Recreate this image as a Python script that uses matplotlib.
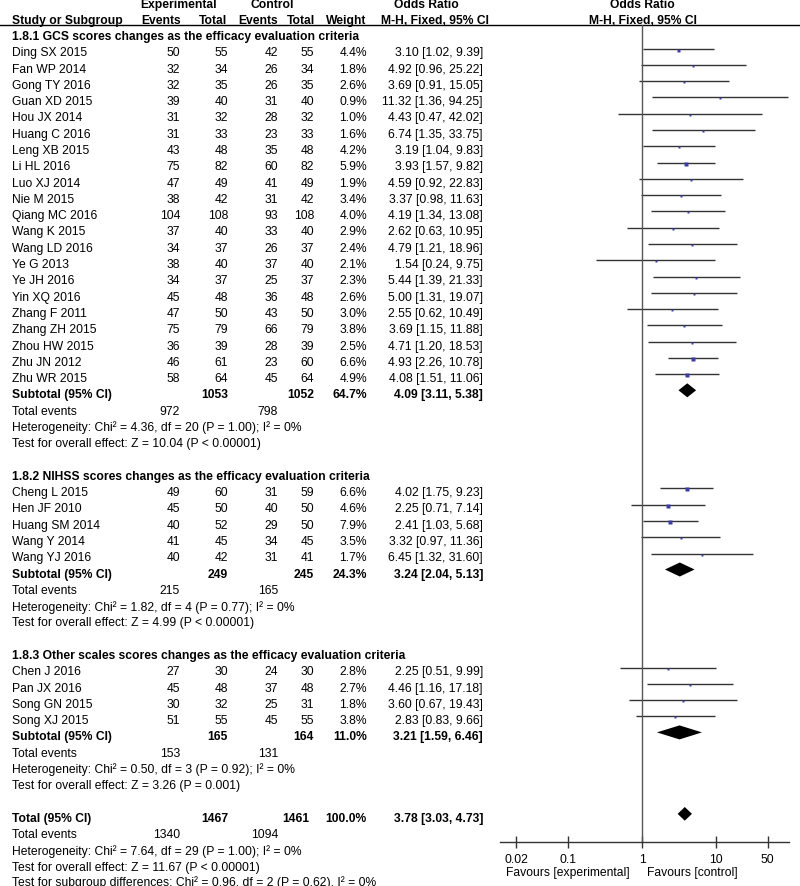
import matplotlib
matplotlib.use("Agg")
import matplotlib.pyplot as plt
from matplotlib.ticker import NullLocator

plt.rcParams['font.family'] = ['Liberation Sans', 'DejaVu Sans']
FS = 8.7

# ---- data ----
g1_title = "1.8.1 GCS scores changes as the efficacy evaluation criteria"
g1_names = ["Ding SX 2015", "Fan WP 2014", "Gong TY 2016", "Guan XD 2015", "Hou JX 2014",
            "Huang C 2016", "Leng XB 2015", "Li HL 2016", "Luo XJ 2014", "Nie M 2015",
            "Qiang MC 2016", "Wang K 2015", "Wang LD 2016", "Ye G 2013", "Ye JH 2016",
            "Yin XQ 2016", "Zhang F 2011", "Zhang ZH 2015", "Zhou HW 2015", "Zhu JN 2012",
            "Zhu WR 2015"]
g1_exp_ev = [50, 32, 32, 39, 31, 31, 43, 75, 47, 38, 104, 37, 34, 38, 34, 45, 47, 75, 36, 46, 58]
g1_exp_n = [55, 34, 35, 40, 32, 33, 48, 82, 49, 42, 108, 40, 37, 40, 37, 48, 50, 79, 39, 61, 64]
g1_ctl_ev = [42, 26, 26, 31, 28, 23, 35, 60, 41, 31, 93, 33, 26, 37, 25, 36, 43, 66, 28, 23, 45]
g1_ctl_n = [55, 34, 35, 40, 32, 33, 48, 82, 49, 42, 108, 40, 37, 40, 37, 48, 50, 79, 39, 60, 64]
g1_weight = [4.4, 1.8, 2.6, 0.9, 1.0, 1.6, 4.2, 5.9, 1.9, 3.4, 4.0, 2.9, 2.4, 2.1, 2.3, 2.6, 3.0, 3.8, 2.5, 6.6, 4.9]
g1_or = [3.10, 4.92, 3.69, 11.32, 4.43, 6.74, 3.19, 3.93, 4.59, 3.37, 4.19, 2.62, 4.79, 1.54, 5.44,
         5.00, 2.55, 3.69, 4.71, 4.93, 4.08]
g1_lo = [1.02, 0.96, 0.91, 1.36, 0.47, 1.35, 1.04, 1.57, 0.92, 0.98, 1.34, 0.63, 1.21, 0.24, 1.39,
         1.31, 0.62, 1.15, 1.20, 2.26, 1.51]
g1_hi = [9.39, 25.22, 15.05, 94.25, 42.02, 33.75, 9.83, 9.82, 22.83, 11.63, 13.08, 10.95, 18.96,
         9.75, 21.33, 19.07, 10.49, 11.88, 18.53, 10.78, 11.06]
g1_sub = [1053, 1052, 64.7, 4.09, 3.11, 5.38]
g1_events = [972, 798]
g1_het = "Heterogeneity: Chi² = 4.36, df = 20 (P = 1.00); I² = 0%"
g1_test = "Test for overall effect: Z = 10.04 (P < 0.00001)"

g2_title = "1.8.2 NIHSS scores changes as the efficacy evaluation criteria"
g2_names = ["Cheng L 2015", "Hen JF 2010", "Huang SM 2014", "Wang Y 2014", "Wang YJ 2016"]
g2_exp_ev = [49, 45, 40, 41, 40]
g2_exp_n = [60, 50, 52, 45, 42]
g2_ctl_ev = [31, 40, 29, 34, 31]
g2_ctl_n = [59, 50, 50, 45, 41]
g2_weight = [6.6, 4.6, 7.9, 3.5, 1.7]
g2_or = [4.02, 2.25, 2.41, 3.32, 6.45]
g2_lo = [1.75, 0.71, 1.03, 0.97, 1.32]
g2_hi = [9.23, 7.14, 5.68, 11.36, 31.60]
g2_sub = [249, 245, 24.3, 3.24, 2.04, 5.13]
g2_events = [215, 165]
g2_het = "Heterogeneity: Chi² = 1.82, df = 4 (P = 0.77); I² = 0%"
g2_test = "Test for overall effect: Z = 4.99 (P < 0.00001)"

g3_title = "1.8.3 Other scales scores changes as the efficacy evaluation criteria"
g3_names = ["Chen J 2016", "Pan JX 2016", "Song GN 2015", "Song XJ 2015"]
g3_exp_ev = [27, 45, 30, 51]
g3_exp_n = [30, 48, 32, 55]
g3_ctl_ev = [24, 37, 25, 45]
g3_ctl_n = [30, 48, 31, 55]
g3_weight = [2.8, 2.7, 1.8, 3.8]
g3_or = [2.25, 4.46, 3.60, 2.83]
g3_lo = [0.51, 1.16, 0.67, 0.83]
g3_hi = [9.99, 17.18, 19.43, 9.66]
g3_sub = [165, 164, 11.0, 3.21, 1.59, 6.46]
g3_events = [153, 131]
g3_het = "Heterogeneity: Chi² = 0.50, df = 3 (P = 0.92); I² = 0%"
g3_test = "Test for overall effect: Z = 3.26 (P = 0.001)"

total = [1467, 1461, 100.0, 3.78, 3.03, 4.73]
total_events = [1340, 1094]
total_het = "Heterogeneity: Chi² = 7.64, df = 29 (P = 1.00); I² = 0%"
total_test = "Test for overall effect: Z = 11.67 (P < 0.00001)"
subgroup_test = "Test for subgroup differences: Chi² = 0.96, df = 2 (P = 0.62), I² = 0%"

tick_vals = [0.02, 0.1, 1, 10, 50]
tick_labels = ["0.02", "0.1", "1", "10", "50"]

groups = [
    (g1_title, g1_names, g1_exp_ev, g1_exp_n, g1_ctl_ev, g1_ctl_n, g1_weight, g1_or, g1_lo, g1_hi,
     g1_sub, g1_events, g1_het, g1_test),
    (g2_title, g2_names, g2_exp_ev, g2_exp_n, g2_ctl_ev, g2_ctl_n, g2_weight, g2_or, g2_lo, g2_hi,
     g2_sub, g2_events, g2_het, g2_test),
    (g3_title, g3_names, g3_exp_ev, g3_exp_n, g3_ctl_ev, g3_ctl_n, g3_weight, g3_or, g3_lo, g3_hi,
     g3_sub, g3_events, g3_het, g3_test),
]

# ---- layout (pixels) ----
W, H = 800, 887
ROW0, DY = 37.0, 16.29
X_NAME = 12
X_EEV, X_EN, X_CEV, X_CN, X_W, X_OR = 180, 228, 278, 314, 367, 483
MARK_OFF = 0.23
SQ_COL = "#3c3ca6"
LINE_COL = "#333333"

fig = plt.figure(figsize=(W / 100, H / 100), dpi=100)
tab = fig.add_axes([0, 0, 1, 1])
tab.set_xlim(0, W)
tab.set_ylim((H - ROW0) / DY, -ROW0 / DY)
tab.axis("off")

ax_top, ax_bot = 26, 843
ax = fig.add_axes([500 / W, (H - ax_bot) / H, 289 / W, (ax_bot - ax_top) / H])
ax.set_xscale("log")
ax.set_xlim(10 ** -1.919, 10 ** 1.986)
ax.set_ylim((ax_bot - ROW0) / DY, (ax_top - ROW0) / DY)
ax.patch.set_alpha(0)


def txt(x, r, s, ha="left", bold=False):
    tab.text(x, r, s, ha=ha, va="center", fontsize=FS,
             fontweight="bold" if bold else "normal", color="black")


def diamond(r, est, lo, hi, h=0.43):
    y = r - 0.25
    ax.fill([lo, est, hi, est], [y, y - h, y, y + h], color="black", lw=0)


# headers
txt(179, -1.95, "Experimental", ha="center", bold=True)
txt(272, -1.95, "Control", ha="center", bold=True)
txt(426, -1.95, "Odds Ratio", ha="center", bold=True)
txt(642, -1.95, "Odds Ratio", ha="center", bold=True)
txt(X_NAME, -1, "Study or Subgroup", bold=True)
txt(161, -1, "Events", ha="center", bold=True)
txt(213, -1, "Total", ha="center", bold=True)
txt(258, -1, "Events", ha="center", bold=True)
txt(301, -1, "Total", ha="center", bold=True)
txt(346, -1, "Weight", ha="center", bold=True)
txt(435, -1, "M-H, Fixed, 95% CI", ha="center", bold=True)
txt(643, -1, "M-H, Fixed, 95% CI", ha="center", bold=True)
tab.plot([0, W], [-0.675, -0.675], color="black", lw=1)

row = 0
for (title, names, eev, en, cev, cn, wt, ors, los, his, sub, evs, het, test) in groups:
    txt(X_NAME, row, title, bold=True)
    row += 1
    for i in range(len(names)):
        txt(X_NAME, row, names[i])
        txt(X_EEV, row, str(eev[i]), ha="right")
        txt(X_EN, row, str(en[i]), ha="right")
        txt(X_CEV, row, str(cev[i]), ha="right")
        txt(X_CN, row, str(cn[i]), ha="right")
        txt(X_W, row, f"{wt[i]:.1f}%", ha="right")
        txt(X_OR, row, f"{ors[i]:.2f} [{los[i]:.2f}, {his[i]:.2f}]", ha="right")
        ax.hlines(row - MARK_OFF, los[i], his[i], color=LINE_COL, lw=1)
        ax.plot(ors[i], row - MARK_OFF + 0.06, "s", color=SQ_COL, mec="none",
                ms=1.5 + 0.15 * wt[i])
        row += 1
    txt(X_NAME, row, "Subtotal (95% CI)", bold=True)
    txt(X_EN, row, str(sub[0]), ha="right", bold=True)
    txt(X_CN, row, str(sub[1]), ha="right", bold=True)
    txt(X_W, row, f"{sub[2]:.1f}%", ha="right", bold=True)
    txt(X_OR, row, f"{sub[3]:.2f} [{sub[4]:.2f}, {sub[5]:.2f}]", ha="right", bold=True)
    diamond(row, sub[3], sub[4], sub[5])
    row += 1
    txt(X_NAME, row, "Total events")
    txt(X_EEV, row, str(evs[0]), ha="right")
    txt(X_CEV, row, str(evs[1]), ha="right")
    row += 1
    txt(X_NAME, row, het)
    row += 1
    txt(X_NAME, row, test)
    row += 2

txt(X_NAME, row, "Total (95% CI)", bold=True)
txt(X_EN, row, str(total[0]), ha="right", bold=True)
txt(X_CN - 5, row, str(total[1]), ha="right", bold=True)
txt(X_W, row, f"{total[2]:.1f}%", ha="right", bold=True)
txt(X_OR, row, f"{total[3]:.2f} [{total[4]:.2f}, {total[5]:.2f}]", ha="right", bold=True)
diamond(row, total[3], total[4], total[5], h=0.42)
row += 1
txt(X_NAME, row, "Total events")
txt(X_EEV, row, str(total_events[0]), ha="right")
txt(X_CEV, row, str(total_events[1]), ha="right")
row += 1
txt(X_NAME, row, total_het)
row += 1
txt(X_NAME, row, total_test)
row += 1
txt(X_NAME, row - 0.12, subgroup_test)

# forest axis
ax.axvline(1, color="#555555", lw=1)
for s in ["top", "left", "right"]:
    ax.spines[s].set_visible(False)
ax.spines["bottom"].set_color("#333333")
ax.spines["bottom"].set_linewidth(1)
ax.set_xticks(tick_vals)
ax.set_xticklabels(tick_labels)
ax.xaxis.set_minor_locator(NullLocator())
ax.tick_params(axis="x", direction="inout", length=8, width=1, color="#333333",
               labelsize=FS, pad=4)
ax.set_yticks([])

fav_r = (873 - ROW0) / DY
txt(630, fav_r, "Favours [experimental]", ha="right")
txt(647, fav_r, "Favours [control]", ha="left")

fig.savefig("out.png", dpi=100)
